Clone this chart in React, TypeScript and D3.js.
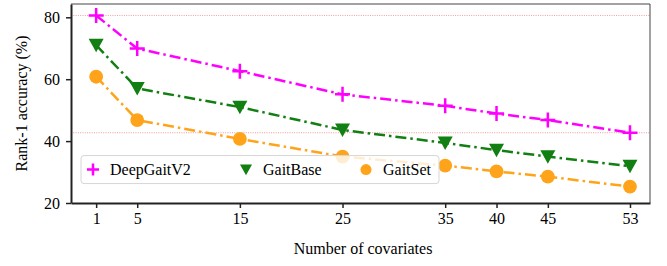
import React from 'react';
import * as d3 from 'd3';

// covariate counts on the x axis
const covariates = [1, 5, 15, 25, 35, 40, 45, 53];
const deepGaitV2 = [80.6, 69.9, 62.6, 55.1, 51.4, 48.9, 46.8, 42.7];
const gaitBase = [71.0, 57.0, 51.0, 43.6, 39.4, 37.1, 35.0, 31.9];
const gaitSet = [60.8, 46.8, 40.7, 35.0, 32.1, 30.2, 28.5, 25.3];
const yTicks = [20, 40, 60, 80];
const refLines = [80.6, 42.7];

const seriesNames = ['DeepGaitV2', 'GaitBase', 'GaitSet'];
const seriesColors = ['#ff00ff', '#117f11', '#ffa41a'];

const W = 667, H = 266;
const margin = { top: 4, right: 17, bottom: 63, left: 71 };
const width = W - margin.left - margin.right;
const height = H - margin.top - margin.bottom;
const font = "'Liberation Serif', 'DejaVu Serif', serif";

function App() {
  const svgRef = React.useRef<SVGSVGElement>(null);

  React.useEffect(() => {
    const x = d3.scaleLinear().domain([-1.45, 54.95]).range([0, width]);
    const y = d3.scaleLinear().domain([20, 84.3]).range([height, 0]);

    const svgEl = d3.select(svgRef.current);
    svgEl.selectAll('*').remove();
    const svg = svgEl.append('g').attr('transform', `translate(${margin.left},${margin.top})`);

    // dotted reference lines
    refLines.forEach(v => {
      svg.append('line')
        .attr('x1', 0).attr('x2', width)
        .attr('y1', y(v)).attr('y2', y(v))
        .attr('stroke', '#f08080').attr('stroke-width', 0.8)
        .attr('stroke-dasharray', '1,1.3');
    });

    // top / right frame
    svg.append('path')
      .attr('d', `M0,0H${width}V${height}`)
      .attr('fill', 'none').attr('stroke', '#444').attr('stroke-width', 1);

    const xAxis = svg.append('g')
      .attr('transform', `translate(0,${height})`)
      .call(d3.axisBottom(x).tickValues(covariates).tickSize(5).tickPadding(5).tickSizeOuter(0));
    xAxis.attr('font-family', null).attr('font-size', null);
    xAxis.select('.domain').attr('stroke', '#222').attr('stroke-width', 2);
    xAxis.selectAll('line').attr('stroke', '#222').attr('stroke-width', 1.5);
    xAxis.selectAll('text').attr('fill', '#000');

    const yAxis = svg.append('g')
      .call(d3.axisLeft(y).tickValues(yTicks).tickSize(5).tickPadding(6).tickSizeOuter(0));
    yAxis.attr('font-family', null).attr('font-size', null);
    yAxis.select('.domain').attr('stroke', '#222').attr('stroke-width', 2);
    yAxis.selectAll('line').attr('stroke', '#222').attr('stroke-width', 1.5);
    yAxis.selectAll('text').attr('fill', '#000');

    const allSeries = [deepGaitV2, gaitBase, gaitSet];
    const line = d3.line<number>()
      .x((d, i) => x(covariates[i]))
      .y(d => y(d));

    const marker = (g: any, k: number, cx: number, cy: number, s: number) => {
      const c = seriesColors[k];
      if (k === 0) {
        g.append('path')
          .attr('d', `M${cx - s},${cy}H${cx + s}M${cx},${cy - s}V${cy + s}`)
          .attr('stroke', c).attr('stroke-width', 2.5).attr('fill', 'none');
      } else if (k === 1) {
        g.append('path')
          .attr('d', `M${cx - s},${cy - s * 0.85}L${cx + s},${cy - s * 0.85}L${cx},${cy + s * 0.95}Z`)
          .attr('fill', c);
      } else {
        g.append('circle').attr('cx', cx).attr('cy', cy).attr('r', s * 0.92).attr('fill', c);
      }
    };

    allSeries.forEach((vals, k) => {
      svg.append('path')
        .datum(vals)
        .attr('d', line)
        .attr('fill', 'none')
        .attr('stroke', seriesColors[k])
        .attr('stroke-width', 2.5)
        .attr('stroke-dasharray', '11,4,2.5,4');
      vals.forEach((v, i) => marker(svg, k, x(covariates[i]), y(v), 7.5));
    });

    // legend
    const lg = svg.append('g').attr('transform', `translate(10,${y(35) - 1})`);
    lg.append('rect')
      .attr('x', 0).attr('y', 0).attr('width', 358).attr('height', 28)
      .attr('rx', 3).attr('fill', 'white').attr('fill-opacity', 0.8)
      .attr('stroke', '#d6d6d6').attr('stroke-width', 1);
    const lx = [6, 159, 279];
    seriesNames.forEach((name, k) => {
      marker(lg, k, lx[k] + 6, 14, 6);
      lg.append('text')
        .attr('x', lx[k] + 23).attr('y', 19.5)
        .text(name);
    });

    // axis titles
    svgEl.append('text')
      .attr('x', margin.left + x(27)).attr('y', 254)
      .attr('text-anchor', 'middle')
      .text('Number of covariates');
    svgEl.append('text')
      .attr('transform', `translate(27,${margin.top + height / 2}) rotate(-90)`)
      .attr('text-anchor', 'middle')
      .text('Rank-1 accuracy (%)');
  }, []);

  return (
    <div>
      <style>{`svg.chart text { font-family: ${font}; font-size: 16px; }`}</style>
      <svg ref={svgRef} className="chart" width={W} height={H}
        style={{ position: 'absolute', left: 0, top: 0, background: 'white', fontFamily: font }} />
    </div>
  );
}

export default App;
